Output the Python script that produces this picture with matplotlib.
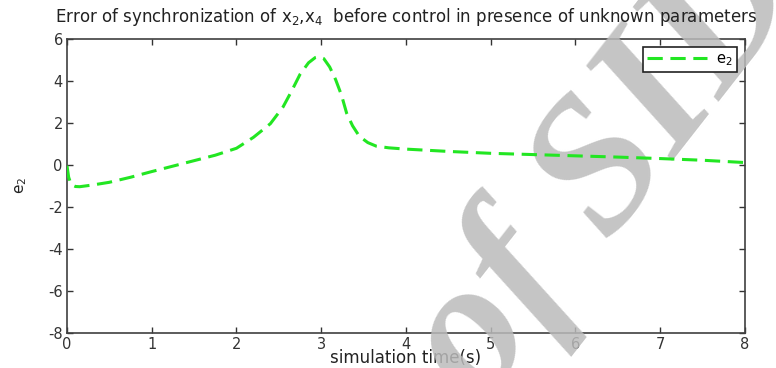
import matplotlib.pyplot as plt

plt.rcParams['font.family'] = ['DejaVu Sans']
plt.rcParams['axes.unicode_minus'] = False

# simulation time (s) and synchronization error e2
t = [0, 0.02, 0.05, 0.1, 0.15, 0.3, 0.5, 0.75, 1.0, 1.25, 1.5, 1.75, 2.0,
     2.2, 2.4, 2.55, 2.65, 2.75, 2.85, 2.93, 2.97, 3.03, 3.1, 3.17, 3.24,
     3.3, 3.37, 3.45, 3.55, 3.65, 3.8, 4.0, 4.5, 5.0, 5.5, 6.0, 6.5, 7.0,
     7.5, 8.0]
e2 = [-0.05, -0.6, -0.95, -1.04, -1.05, -0.97, -0.84, -0.6, -0.33, -0.07,
      0.19, 0.45, 0.78, 1.3, 1.95, 2.75, 3.5, 4.3, 4.85, 5.1, 5.14, 5.05,
      4.65, 4.05, 3.3, 2.45, 1.85, 1.35, 1.05, 0.88, 0.8, 0.74, 0.63, 0.54,
      0.48, 0.42, 0.36, 0.29, 0.21, 0.1]

x_ticks = [0, 1, 2, 3, 4, 5, 6, 7, 8]
y_ticks = [-8, -6, -4, -2, 0, 2, 4, 6]

fig = plt.figure(figsize=(7.76, 3.68), dpi=100)
ax = fig.add_axes([0.0863, 0.096, 0.8737, 0.799])

ax.plot(t, e2, '--', color='#22e622', linewidth=2.2, dashes=(5, 2.5),
        label='e$_2$', zorder=3)

ax.set_xlim(0, 8)
ax.set_ylim(-8, 6)
ax.set_xticks(x_ticks)
ax.set_yticks(y_ticks)
ax.tick_params(direction='in', top=True, right=True, length=4,
               labelsize=10.5, colors='#333333', width=1, pad=3)
for s in ax.spines.values():
    s.set_color('#404040')
    s.set_linewidth(1.2)

ax.set_title('Error of synchronization of x$_2$,x$_4$  before control in presence of unknown parameters',
             fontsize=12, pad=12, color='#222222')
ax.set_xlabel('simulation time(s)', fontsize=12, labelpad=-2, color='#222222')
ax.set_ylabel('e$_2$', fontsize=11, labelpad=14, color='#222222')

leg = ax.legend(loc='upper right', fontsize=10.5, handlelength=4.1,
                handletextpad=0.6, borderpad=0.3, fancybox=False,
                framealpha=1, borderaxespad=0.55)
leg.get_frame().set_edgecolor('#222222')
leg.get_frame().set_linewidth(1.2)
leg.set_zorder(5)

# watermark, under the curve and the legend
ax.text(0.78, 0.54, 'of SID', fontsize=138, family='Liberation Serif',
        style='italic', weight='bold', color='#bbbbbb', alpha=0.85,
        rotation=52, ha='center', va='center', transform=fig.transFigure,
        clip_on=False, zorder=2.7)

fig.savefig('out.png', dpi=100)
